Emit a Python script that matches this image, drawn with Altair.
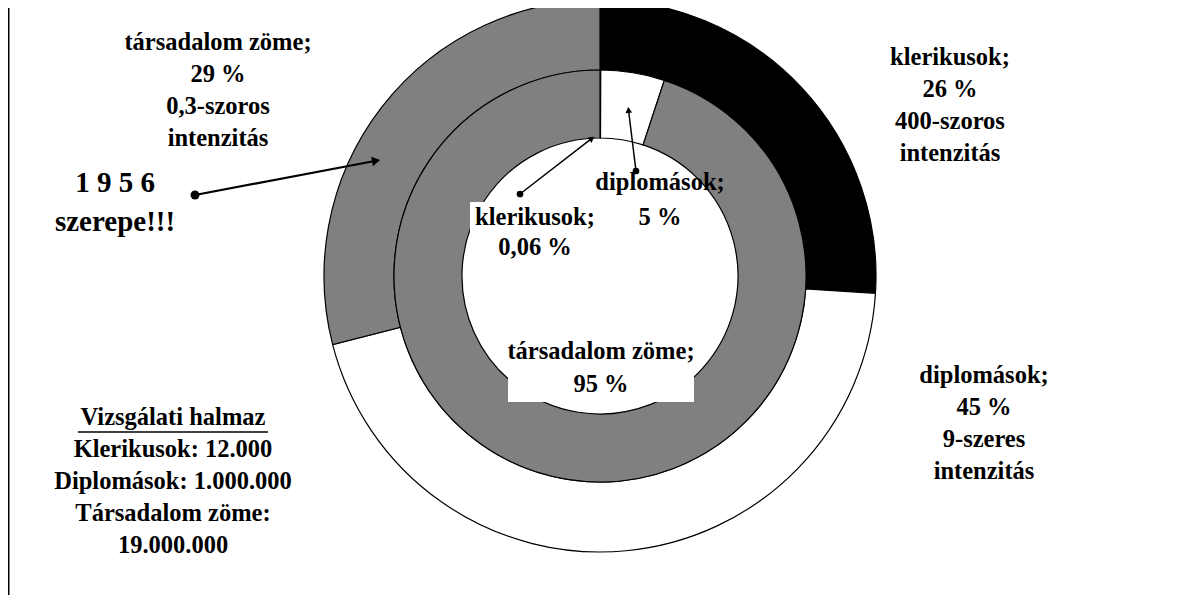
import math
import altair as alt
import pandas as pd

# ---------------- data ----------------
categories = ["klerikusok", "diplomások", "társadalom zöme"]
outer_pct = [26, 45, 29]          # share of the studied group
inner_pct = [0.06, 5, 95]         # share of society
intensity = ["400-szoros", "9-szeres", "0,3-szoros"]
fills = ["#000000", "#ffffff", "#808080"]
study_title = "Vizsgálati halmaz"
study_lines = ["Klerikusok: 12.000", "Diplomások: 1.000.000", "Társadalom zöme:", "19.000.000"]
note_lines = ["1 9 5 6", "szerepe!!!"]


def fmt(v):
    return str(v).replace(".", ",") + " %"


# ---------------- layout ----------------
W, H = 1166, 587
M = 8  # page margin


def px(x):
    return x - M


def py(y):
    return y - M


CX, CY = px(600), py(276)
R_OUT, R_MID, R_IN = 276, 206, 138
FONT = "Liberation Serif"
FS = 24.5
LH = 32

outer_df = pd.DataFrame({"cat": categories, "pct": outer_pct, "ord": list(range(3))})
inner_df = pd.DataFrame({"cat": categories, "pct": inner_pct, "ord": list(range(3))})
one = pd.DataFrame({"a": [0]})

color = alt.Color("cat:N", scale=alt.Scale(domain=categories, range=fills), legend=None)


def ring(df, r1, r2):
    return alt.Chart(df).mark_arc(radius=r1, radius2=r2, stroke="black", strokeWidth=1.2).encode(
        theta=alt.Theta("pct:Q", stack=True),
        order=alt.Order("ord:Q"),
        color=color,
        x=alt.value(CX),
        y=alt.value(CY),
    )


def label(lines, x, y, size=FS, lh=LH):
    # y is the centre of the first line
    return alt.Chart(one).mark_text(
        text=lines, font=FONT, fontWeight="bold", fontSize=size, lineHeight=lh,
        align="center", baseline="middle", color="black",
    ).encode(x=alt.value(px(x)), y=alt.value(py(y)))


def box(x1, y1, x2, y2):
    return alt.Chart(one).mark_rect(color="white").encode(
        x=alt.value(px(x1)), x2=alt.value(px(x2)), y=alt.value(py(y1)), y2=alt.value(py(y2)))


def arrow(x1, y1, x2, y2, width, dot, head):
    dx, dy = x2 - x1, y2 - y1
    L = math.hypot(dx, dy)
    ux, uy = dx / L, dy / L
    ang = (math.degrees(math.atan2(dx, -dy)) + 360) % 360
    hx, hy = x2 - ux * 4, y2 - uy * 4
    line = alt.Chart(one).mark_rule(color="black", strokeWidth=width).encode(
        x=alt.value(px(x1)), y=alt.value(py(y1)),
        x2=alt.value(px(hx)), y2=alt.value(py(hy)))
    d = alt.Chart(one).mark_point(shape="circle", filled=True, color="black", size=dot, opacity=1).encode(
        x=alt.value(px(x1)), y=alt.value(py(y1)))
    h = alt.Chart(one).mark_point(shape="triangle-up", filled=True, color="black", size=head,
                                  angle=ang, opacity=1).encode(
        x=alt.value(px(hx)), y=alt.value(py(hy)))
    return [line, d, h]


outer_labels = [
    [f"{categories[i]};", fmt(outer_pct[i]), intensity[i], "intenzitás"] for i in range(3)
]
inner_labels = [[f"{categories[i]};", fmt(inner_pct[i])] for i in range(3)]

layers = [
    ring(outer_df, R_OUT, R_MID),
    ring(inner_df, R_MID, R_IN),
    box(470, 202, 600, 265),
    box(508, 340, 694, 402),
    label(outer_labels[0], 950, 58),
    label(outer_labels[1], 984, 376),
    label(outer_labels[2], 218, 43),
    label(inner_labels[0], 535, 218, lh=30),
    label(inner_labels[1], 660, 183, lh=35),
    label(inner_labels[2], 601, 352, lh=33),
    label(note_lines, 115, 183, size=29, lh=39),
    label([study_title] + study_lines, 173, 418, lh=32),
    alt.Chart(one).mark_rule(color="black", strokeWidth=1.5).encode(
        x=alt.value(px(78)), x2=alt.value(px(268)), y=alt.value(py(432)), y2=alt.value(py(432))),
    alt.Chart(one).mark_rule(color="black", strokeWidth=1.5).encode(
        x=alt.value(0.75), x2=alt.value(0.75), y=alt.value(0), y2=alt.value(H)),
]
layers += arrow(195, 195, 380, 160, 2.2, 80, 90)
layers += arrow(520, 194, 595, 136, 1.5, 45, 45)
layers += arrow(636, 171, 628, 106, 1.5, 45, 45)

chart = (
    alt.layer(*layers)
    .resolve_scale(theta="independent")
    .properties(width=W, height=H, padding=0, autosize="none", background="white")
    .configure_view(stroke=None)
)

chart.save("out.html", embed_options={"renderer": "svg", "actions": False})
